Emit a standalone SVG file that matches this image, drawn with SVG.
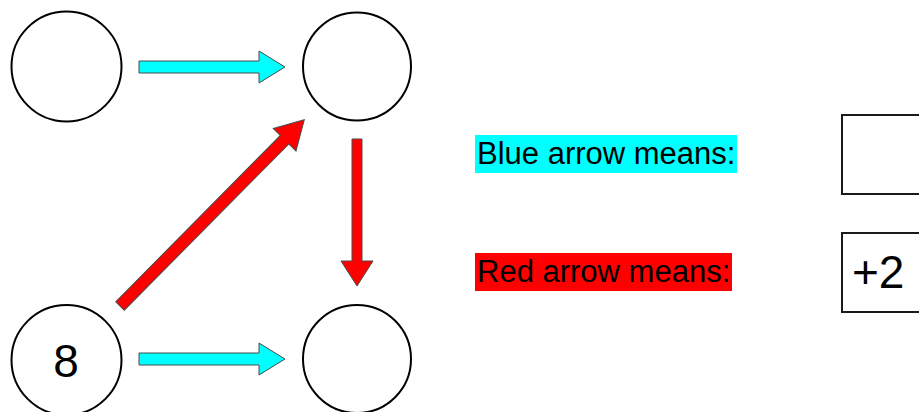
<svg xmlns="http://www.w3.org/2000/svg" width="919" height="412" viewBox="0 0 919 412">
  <style>
    .node { fill: #ffffff; stroke: #000000; stroke-width: 2; }
    .blue { fill: #00ffff; stroke: #4a4a4a; stroke-width: 1; }
    .red { fill: #ff0000; stroke: #4a4a4a; stroke-width: 1; }
    .box { fill: #ffffff; stroke: #1a1a1a; stroke-width: 2; }
    .label { font-family: "Liberation Sans", Arial, sans-serif; font-size: 31px; fill: #000000; }
    .num { font-family: "Liberation Sans", Arial, sans-serif; font-size: 46px; fill: #000000; }
  </style>
  <rect width="919" height="412" fill="#ffffff"/>

  <!-- nodes -->
  <g id="node-top-left">
    <circle class="node" cx="66.5" cy="66.5" r="55"/>
  </g>
  <g id="node-top-right">
    <circle class="node" cx="357" cy="66.5" r="54"/>
  </g>
  <g id="node-bottom-left">
    <circle class="node" cx="66.5" cy="360" r="55"/>
    <text class="num" x="66" y="377" text-anchor="middle">8</text>
  </g>
  <g id="node-bottom-right">
    <circle class="node" cx="357" cy="359" r="54"/>
  </g>

  <!-- connectors: block arrows -->
  <g id="connectors">
    <path class="blue" d="M139,61 H259 V51 L285,67 L259,83 V73 H139 Z"/>
    <path class="blue" d="M139,353 H259 V343 L285,359 L259,375 V365 H139 Z"/>
    <path class="red" d="M352,139 V261 H341 L357,286 L373,261 H362 V139 Z"/>
    <path class="red" transform="translate(120,306) rotate(-45.3)" d="M0,-6 H234 V-16 L262,0 L234,16 V6 H0 Z"/>
  </g>

  <!-- legend -->
  <g id="legend-blue">
    <rect x="475" y="135" width="262" height="38" fill="#00ffff"/>
    <text class="label" x="477" y="164">Blue arrow means:</text>
  </g>
  <g id="legend-red">
    <rect x="475" y="253" width="257" height="38" fill="#ff0000"/>
    <text class="label" x="477" y="282">Red arrow means:</text>
  </g>

  <!-- answer boxes -->
  <g id="answer-blue">
    <rect class="box" x="842" y="115" width="120" height="79"/>
  </g>
  <g id="answer-red">
    <rect class="box" x="842" y="233" width="120" height="79"/>
    <text class="num" x="852" y="288">+2</text>
  </g>
</svg>
